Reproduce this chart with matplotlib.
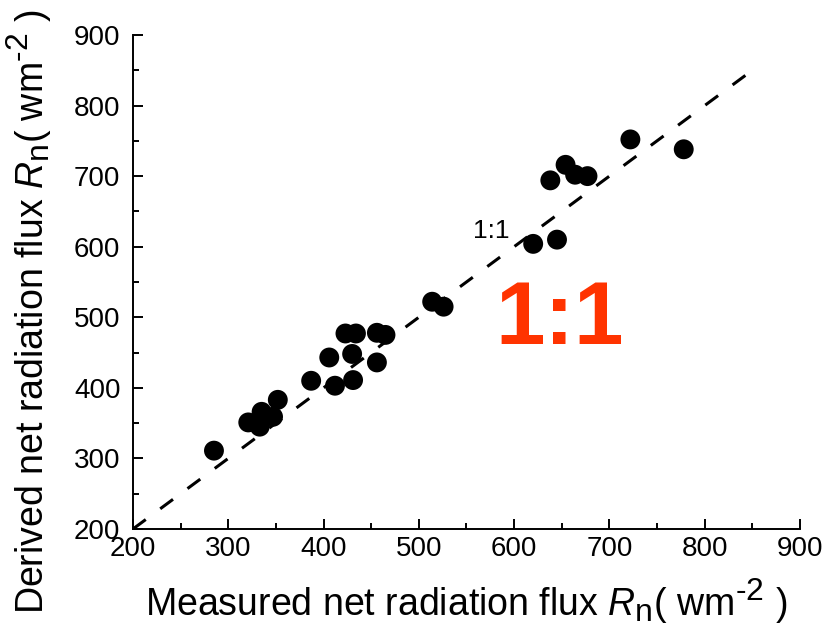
import matplotlib
matplotlib.use("Agg")
import matplotlib.pyplot as plt
import numpy as np
from matplotlib.ticker import MultipleLocator
try:
    import matplotlib._mathtext as _mt
    _mt.SHRINK_FACTOR = 0.85
except Exception:
    pass

plt.rcParams['font.family'] = ['Liberation Sans', 'DejaVu Sans']
plt.rcParams['mathtext.fontset'] = 'custom'
plt.rcParams['mathtext.rm'] = 'Liberation Sans'
plt.rcParams['mathtext.it'] = 'Liberation Sans:italic'

measured = [285, 321, 335, 333, 347, 352, 387, 412, 431, 406, 423, 434, 430,
            456, 465, 456, 514, 526, 620, 645, 638, 654, 664, 677, 722, 778]
derived = [311, 351, 366, 345, 359, 383, 410, 403, 411, 443, 477, 477, 448,
           478, 475, 436, 522, 515, 604, 610, 694, 716, 702, 700, 752, 738]
line_range = [200, 850]
ticks = [200, 300, 400, 500, 600, 700, 800, 900]

fig = plt.figure(figsize=(8.29, 6.44), dpi=100)
ax = fig.add_axes([0.1604, 0.1786, 0.8046, 0.7671])

ax.plot(line_range, line_range, color='black', lw=2.2, linestyle=(0, (5.2, 5.9)),
        dash_capstyle='butt', zorder=2)
ax.scatter(measured, derived, s=205, color='black', edgecolors='none', zorder=3)

ax.set_xlim(200, 900)
ax.set_ylim(200, 900)
ax.set_xticks(ticks)
ax.set_yticks(ticks)
ax.xaxis.set_minor_locator(MultipleLocator(50))
ax.yaxis.set_minor_locator(MultipleLocator(50))
for s in ['top', 'right']:
    ax.spines[s].set_visible(False)
for s in ['left', 'bottom']:
    ax.spines[s].set_linewidth(1.4)
ax.tick_params(which='both', direction='in', width=1.4, labelsize=20)
ax.tick_params(which='major', length=7)
ax.tick_params(which='minor', length=4.3)
ax.tick_params(axis='x', pad=5)
ax.tick_params(axis='y', pad=9)

ax.set_xlabel("Measured net radiation flux $R_\\mathrm{n}$( wm$^{\u2010 2}$ )", fontsize=27)
ax.set_ylabel("Derived net radiation flux $R_\\mathrm{n}$( wm$^{\u2010 2}$ )", fontsize=27)
ax.xaxis.set_label_coords(0.5, -0.095)
ax.yaxis.set_label_coords(-0.118, 0.44)

ax.text(576, 622, "1:1", fontsize=19, ha='center', va='center', color='black')
ax.text(648, 494, "1:1", fontsize=64, fontweight='bold', ha='center', va='center', color='#FF3300')

fig.savefig("out.png", dpi=100)
